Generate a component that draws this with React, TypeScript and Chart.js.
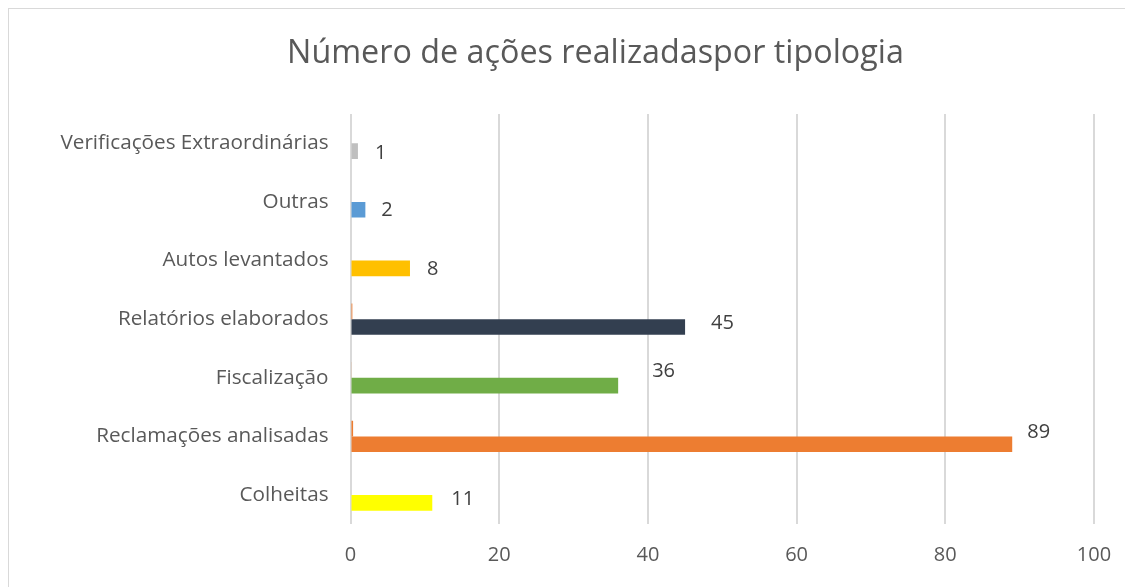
import React, { useEffect, useRef } from "react";
import { Chart, registerables } from "chart.js";

Chart.register(...registerables);

const categories = [
  "Verificações Extraordinárias",
  "Outras",
  "Autos levantados",
  "Relatórios elaborados",
  "Fiscalização",
  "Reclamações analisadas",
  "Colheitas",
];
const mainValues = [1, 2, 8, 45, 36, 89, 11];
const sliverValues = [0, 0, 0, 0.25, 0.12, 0.35, 0];
const barColors = ["#bfbfbf", "#5b9bd5", "#ffc000", "#333f50", "#70ad47", "#ed7d31", "#ffff00"];
const xTicks = [0, 20, 40, 60, 80, 100];
const titleText = "Número de ações realizadaspor tipologia";

// label offsets (dx from bar end, dy from bar centre) – styling only
const labelOffsets: [number, number][] = [
  [17, 2],
  [16, 1],
  [17, 1],
  [26, -4],
  [34, -14],
  [15, -12],
  [19, -4],
];

const FONT = "'Open Sans', Lato, sans-serif";

export default function App() {
  const ref = useRef<HTMLCanvasElement | null>(null);
  useEffect(() => {
    document.body.style.overflow = "hidden";
    const canvas = ref.current;
    if (!canvas) return;
    const labelPlugin = {
      id: "valueLabels",
      afterDatasetsDraw(chart: any) {
        const ctx = chart.ctx;
        const meta = chart.getDatasetMeta(1);
        ctx.save();
        ctx.font = `20px ${FONT}`;
        ctx.fillStyle = "#404040";
        ctx.textAlign = "left";
        ctx.textBaseline = "middle";
        meta.data.forEach((bar: any, i: number) => {
          const [dx, dy] = labelOffsets[i];
          ctx.fillText(String(mainValues[i]), bar.x + dx, bar.y + dy);
        });
        ctx.restore();
      },
    };
    const titlePlugin = {
      id: "customTitle",
      afterDraw(chart: any) {
        const ctx = chart.ctx;
        ctx.save();
        ctx.font = `32.3px ${FONT}`;
        ctx.fillStyle = "#595959";
        ctx.textAlign = "center";
        ctx.textBaseline = "middle";
        ctx.fillText(titleText, 587.5, 46);
        ctx.restore();
      },
    };
    const chart = new Chart(canvas, {
      type: "bar",
      data: {
        labels: categories,
        datasets: [
          {
            data: sliverValues,
            backgroundColor: "#ed7d31",
            categoryPercentage: 0.535,
            barPercentage: 1,
          },
          {
            data: mainValues,
            backgroundColor: barColors,
            categoryPercentage: 0.535,
            barPercentage: 1,
          },
        ],
      },
      options: {
        indexAxis: "y",
        animation: false,
        responsive: false,
        layout: { padding: { left: 0, right: 39, top: 106, bottom: 0 } },
        plugins: {
          legend: { display: false },
          tooltip: { enabled: false },
          title: { display: false },
        },
        scales: {
          x: {
            min: 0,
            max: 100,
            afterBuildTicks(scale: any) {
              scale.ticks = xTicks.map((v) => ({ value: v }));
            },
            afterFit(scale: any) {
              scale.height = 62.7;
            },
            grid: { color: "#d9d9d9", lineWidth: 2, drawTicks: false },
            border: { display: false },
            ticks: {
              color: "#595959",
              font: { family: FONT, size: 20, lineHeight: 1.2 },
              padding: 19,
            },
          },
          y: {
            afterFit(scale: any) {
              scale.width = 342.5;
            },
            grid: { display: false, drawTicks: false },
            border: { display: false },
            ticks: {
              color: "#595959",
              font: { family: FONT, size: 20.7, lineHeight: 1.2 },
              padding: 22,
            },
          },
        },
      },
      plugins: [labelPlugin, titlePlugin],
    });
    return () => chart.destroy();
  }, []);
  return (
    <div style={{ position: "relative", width: 1125, height: 579 }}>
      <canvas ref={ref} width={1125} height={579} style={{ position: "absolute", left: 0, top: 0 }} />
      <div
        style={{
          position: "absolute",
          left: 0,
          top: 0,
          width: 1125,
          height: 579,
          borderLeft: "1px solid #d9d9d9",
          borderTop: "1px solid #d9d9d9",
          boxSizing: "border-box",
          pointerEvents: "none",
        }}
      />
    </div>
  );
}
